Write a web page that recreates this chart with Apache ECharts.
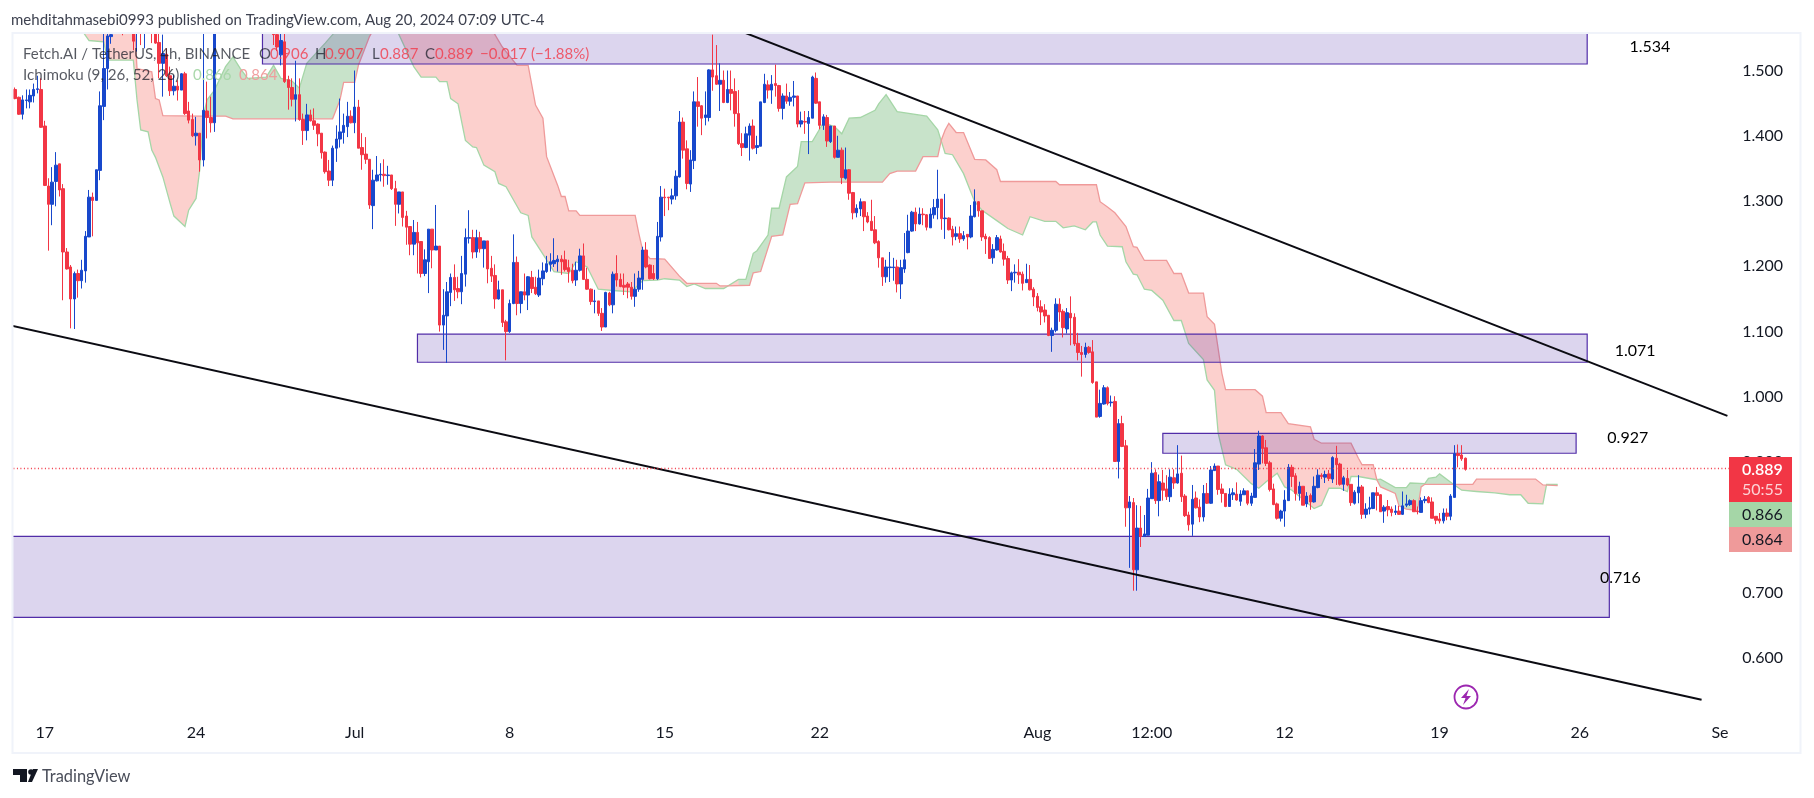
<!DOCTYPE html>
<html><head><meta charset="utf-8">
<style>html,body{margin:0;padding:0;background:#fff}#c{width:1814px;height:798px}</style>
<script src="https://cdn.jsdelivr.net/npm/echarts@6/dist/echarts.min.js"></script>
</head><body><div id="c"></div>
<script>
// FET/USDT 4h candles. null = bar lies wholly above the visible frame.
const opens=[1.471,1.459,1.433,1.454,1.452,1.461,1.471,1.471,1.415,1.323,
1.295,1.330,1.357,1.319,1.222,1.199,1.150,1.189,1.178,1.193,
1.245,1.306,1.301,1.347,1.445,1.503,1.552,null,null,1.600,
null,null,1.600,1.560,1.590,1.570,null,1.590,1.570,1.543,
1.511,1.525,1.492,1.469,1.476,1.470,1.495,1.438,1.425,1.400,
1.404,1.363,1.438,1.428,1.420,null,null,null,null,null,
null,null,null,null,null,null,null,null,null,null,
1.580,1.555,1.524,1.544,1.486,1.474,1.456,1.463,1.425,1.408,
1.432,1.423,1.418,1.404,1.375,1.346,1.332,1.381,1.395,1.405,
1.414,1.430,1.420,1.444,1.382,1.372,1.364,1.293,1.331,1.340,
1.341,1.339,1.340,1.319,1.295,1.314,1.277,1.261,1.234,1.252,
1.238,1.189,1.207,1.257,1.225,1.231,1.110,1.124,1.160,1.183,
1.166,1.161,1.188,1.243,1.244,1.222,1.244,1.227,1.239,1.197,
1.186,1.150,1.164,1.115,1.100,1.143,1.206,1.143,1.161,1.156,
1.183,1.168,1.156,1.181,1.192,1.203,1.204,1.207,1.211,1.210,
1.198,1.194,1.179,1.194,1.216,1.180,1.165,1.146,1.147,1.128,
1.107,1.159,1.141,1.189,1.180,1.171,1.173,1.168,1.154,1.165,
1.180,1.225,1.202,1.189,1.181,1.245,1.306,1.306,1.303,1.308,
1.337,1.421,1.380,1.326,1.362,1.452,1.446,1.428,1.428,1.501,
1.492,1.479,1.485,1.451,1.471,1.468,1.434,1.388,1.382,1.401,
1.415,1.382,1.384,1.451,1.478,1.470,1.480,1.477,1.442,1.461,
1.453,1.459,1.461,1.418,1.422,1.419,1.427,1.488,1.452,1.416,
1.428,1.391,1.415,1.367,1.378,1.335,1.348,1.313,1.282,1.288,
1.299,1.277,1.269,1.256,1.238,1.213,1.184,1.198,1.198,1.199,
1.173,1.196,1.221,1.254,1.283,1.265,1.280,1.279,1.259,1.279,
1.290,1.303,1.273,1.274,1.257,1.246,1.250,1.242,1.249,1.245,
1.276,1.299,1.285,1.246,1.244,1.213,1.225,1.242,1.223,1.212,
1.179,1.190,1.191,1.188,1.175,1.180,1.165,1.154,1.138,1.133,
1.125,1.094,1.102,1.142,1.131,1.104,1.128,1.122,1.082,1.068,
1.065,1.076,1.069,1.023,0.970,0.989,1.014,0.991,0.993,0.901,
0.959,0.925,0.830,0.838,0.735,0.799,0.786,0.788,0.844,0.884,
0.841,0.868,0.859,0.847,0.876,0.868,0.883,0.848,0.819,0.805,
0.845,0.831,0.816,0.852,0.837,0.887,0.894,0.859,0.852,0.832,
0.850,0.851,0.840,0.850,0.856,0.837,0.846,0.897,0.940,0.922,
0.899,0.859,0.836,0.814,0.825,0.841,0.892,0.879,0.852,0.863,
0.836,0.849,0.839,0.861,0.880,0.877,0.882,0.874,0.906,0.897,
0.866,0.875,0.866,0.837,0.853,0.862,0.820,0.828,0.829,0.853,
0.850,0.825,0.832,0.828,0.823,0.825,0.820,0.834,0.835,0.841,
0.825,0.823,0.841,0.846,0.839,0.817,0.813,0.810,0.822,0.817,
0.846,0.913,0.911,0.906];
const closes=[1.457,1.433,1.455,1.455,1.462,1.471,1.472,1.413,1.324,1.295,
1.329,1.355,1.317,1.222,1.196,1.150,1.189,1.178,1.194,1.246,
1.306,1.301,1.348,1.446,1.503,1.553,1.555,null,null,1.570,
null,null,1.545,1.590,1.560,1.585,null,1.570,1.542,1.511,
1.526,1.492,1.469,1.476,1.470,1.495,1.434,1.424,1.400,1.404,
1.363,1.439,1.428,1.420,1.570,null,null,null,null,null,
null,null,null,null,null,null,null,null,null,null,
1.555,1.536,1.546,1.483,1.474,1.456,1.463,1.425,1.408,1.432,
1.423,1.416,1.403,1.374,1.345,1.332,1.381,1.395,1.406,1.416,
1.430,1.420,1.444,1.381,1.371,1.364,1.294,1.332,1.340,1.341,
1.339,1.340,1.319,1.295,1.314,1.275,1.260,1.234,1.252,1.236,
1.189,1.210,1.257,1.225,1.231,1.110,1.125,1.161,1.183,1.164,
1.161,1.189,1.244,1.244,1.222,1.244,1.227,1.239,1.196,1.185,
1.150,1.164,1.114,1.100,1.143,1.206,1.143,1.161,1.156,1.184,
1.166,1.158,1.182,1.193,1.204,1.207,1.209,1.211,1.207,1.195,
1.192,1.178,1.194,1.216,1.180,1.165,1.146,1.147,1.128,1.107,
1.160,1.141,1.188,1.179,1.169,1.168,1.168,1.154,1.165,1.182,
1.225,1.199,1.181,1.181,1.246,1.306,1.305,1.305,1.308,1.338,
1.421,1.378,1.327,1.363,1.452,1.445,1.427,1.432,1.501,1.490,
1.479,1.485,1.451,1.471,1.465,1.434,1.388,1.382,1.403,1.415,
1.381,1.385,1.452,1.479,1.470,1.479,1.477,1.442,1.461,1.453,
1.459,1.461,1.418,1.423,1.421,1.428,1.490,1.450,1.416,1.429,
1.392,1.415,1.367,1.378,1.336,1.348,1.312,1.282,1.289,1.299,
1.276,1.268,1.255,1.236,1.213,1.184,1.199,1.199,1.199,1.173,
1.198,1.210,1.254,1.283,1.265,1.280,1.279,1.260,1.280,1.290,
1.303,1.273,1.274,1.256,1.245,1.250,1.242,1.247,1.245,1.277,
1.299,1.285,1.245,1.242,1.212,1.226,1.244,1.222,1.211,1.179,
1.190,1.191,1.187,1.174,1.180,1.164,1.153,1.137,1.130,1.124,
1.094,1.102,1.142,1.130,1.106,1.129,1.121,1.081,1.068,1.065,
1.076,1.068,1.022,0.969,0.990,1.014,0.990,0.992,0.901,0.959,
0.924,0.830,0.839,0.735,0.799,0.786,0.790,0.845,0.883,0.841,
0.870,0.857,0.847,0.877,0.868,0.882,0.847,0.818,0.804,0.843,
0.830,0.816,0.852,0.837,0.888,0.894,0.858,0.852,0.832,0.851,
0.853,0.842,0.851,0.856,0.837,0.848,0.899,0.940,0.921,0.898,
0.858,0.835,0.814,0.825,0.842,0.892,0.878,0.852,0.863,0.834,
0.848,0.839,0.863,0.880,0.878,0.881,0.875,0.907,0.896,0.866,
0.876,0.865,0.838,0.854,0.862,0.820,0.828,0.830,0.853,0.849,
0.824,0.831,0.827,0.823,0.825,0.820,0.833,0.836,0.841,0.824,
0.824,0.841,0.843,0.838,0.814,0.811,0.810,0.822,0.817,0.848,
0.913,0.910,0.905,0.889];
const highs=[1.474,1.460,1.462,1.471,1.471,1.480,1.492,1.488,1.423,1.335,
1.352,1.375,1.357,1.326,1.228,1.202,1.192,1.195,1.210,1.254,
1.317,1.313,1.348,1.468,1.557,1.577,1.562,null,null,1.610,
null,null,1.610,1.600,1.600,1.595,null,1.600,1.575,1.562,
1.555,1.534,1.506,1.493,1.485,1.496,1.498,1.452,1.434,1.429,
1.404,1.557,1.483,1.460,1.600,null,null,null,null,null,
null,null,null,null,null,null,null,null,null,null,
1.590,1.570,1.566,1.575,1.492,1.488,1.515,1.488,1.434,1.449,
1.440,1.442,1.419,1.404,1.376,1.363,1.385,1.416,1.457,1.434,
1.452,1.439,1.500,1.455,1.404,1.398,1.364,1.348,1.369,1.358,
1.364,1.354,1.340,1.331,1.314,1.314,1.285,1.261,1.271,1.268,
1.238,1.226,1.257,1.257,1.294,1.231,1.165,1.176,1.189,1.203,
1.184,1.216,1.258,1.286,1.256,1.256,1.253,1.239,1.239,1.216,
1.203,1.178,1.164,1.118,1.149,1.249,1.215,1.161,1.189,1.185,
1.193,1.184,1.195,1.206,1.216,1.220,1.243,1.217,1.217,1.224,
1.210,1.204,1.207,1.227,1.235,1.198,1.166,1.164,1.147,1.136,
1.161,1.161,1.192,1.217,1.189,1.189,1.176,1.176,1.189,1.193,
1.230,1.237,1.203,1.202,1.268,1.323,1.319,1.306,1.319,1.347,
1.438,1.428,1.393,1.378,1.468,1.490,1.447,1.468,1.502,1.555,
1.539,1.511,1.500,1.500,1.500,1.488,1.470,1.404,1.414,1.419,
1.425,1.400,1.452,1.495,1.485,1.493,1.509,1.478,1.465,1.480,
1.467,1.484,1.461,1.437,1.438,1.438,1.492,1.497,1.452,1.433,
1.432,1.415,1.415,1.400,1.382,1.382,1.349,1.314,1.295,1.304,
1.299,1.283,1.302,1.277,1.240,1.213,1.210,1.222,1.213,1.210,
1.210,1.251,1.279,1.285,1.290,1.290,1.289,1.280,1.289,1.303,
1.348,1.303,1.311,1.275,1.262,1.261,1.261,1.254,1.249,1.294,
1.318,1.300,1.285,1.250,1.246,1.234,1.248,1.247,1.235,1.216,
1.192,1.203,1.211,1.192,1.204,1.202,1.168,1.159,1.148,1.142,
1.125,1.106,1.151,1.151,1.134,1.136,1.154,1.128,1.098,1.078,
1.083,1.078,1.087,1.023,1.011,1.018,1.016,1.002,1.001,0.966,
0.971,0.934,0.848,0.845,0.834,0.833,0.819,0.859,0.900,0.889,
0.881,0.888,0.880,0.889,0.889,0.926,0.910,0.851,0.824,0.865,
0.855,0.843,0.865,0.868,0.894,0.898,0.894,0.867,0.852,0.860,
0.860,0.869,0.857,0.860,0.856,0.853,0.920,0.948,0.941,0.934,
0.902,0.867,0.838,0.827,0.857,0.897,0.896,0.883,0.870,0.863,
0.854,0.852,0.878,0.889,0.883,0.887,0.888,0.909,0.925,0.899,
0.879,0.888,0.866,0.857,0.880,0.865,0.837,0.847,0.853,0.862,
0.851,0.834,0.842,0.832,0.834,0.833,0.855,0.850,0.843,0.843,
0.832,0.846,0.848,0.848,0.846,0.817,0.822,0.829,0.829,0.851,
0.926,0.927,0.926,0.907];
const lows=[1.456,1.432,1.425,1.442,1.442,1.451,1.465,1.412,1.323,1.224,
1.263,1.292,1.307,1.148,1.195,1.105,1.104,1.152,1.166,1.175,
1.245,1.246,1.301,1.332,1.424,1.471,1.541,null,null,1.554,
null,null,1.531,1.529,1.539,1.534,null,1.542,1.541,1.488,
1.460,1.490,1.461,1.462,1.454,1.470,1.432,1.419,1.398,1.385,
1.345,1.353,1.396,1.405,1.406,null,null,null,null,null,
null,null,null,null,null,null,null,null,null,null,
1.539,1.530,1.508,1.481,1.440,1.445,1.422,1.423,1.386,1.393,
1.422,1.409,1.384,1.365,1.342,1.323,1.323,1.360,1.382,1.388,
1.398,1.419,1.404,1.381,1.348,1.357,1.288,1.257,1.330,1.330,
1.322,1.325,1.317,1.262,1.281,1.261,1.233,1.217,1.217,1.189,
1.183,1.185,1.159,1.197,1.225,1.100,1.072,1.052,1.139,1.147,
1.151,1.142,1.169,1.235,1.212,1.213,1.221,1.198,1.174,1.176,
1.135,1.149,1.107,1.056,1.098,1.142,1.125,1.128,1.148,1.133,
1.159,1.156,1.153,1.171,1.190,1.192,1.199,1.192,1.187,1.192,
1.175,1.174,1.170,1.192,1.179,1.164,1.141,1.128,1.124,1.101,
1.107,1.139,1.128,1.169,1.168,1.156,1.151,1.149,1.138,1.161,
1.164,1.197,1.180,1.179,1.179,1.238,1.277,1.286,1.295,1.302,
1.336,1.365,1.318,1.314,1.349,1.414,1.401,1.416,1.422,1.469,
1.478,1.438,1.450,1.450,1.439,1.414,1.386,1.369,1.381,1.362,
1.379,1.372,1.384,1.450,1.457,1.449,1.460,1.437,1.425,1.449,
1.446,1.445,1.413,1.413,1.403,1.372,1.427,1.449,1.410,1.409,
1.383,1.389,1.365,1.367,1.326,1.333,1.302,1.272,1.275,1.277,
1.254,1.266,1.254,1.234,1.198,1.170,1.175,1.176,1.178,1.160,
1.150,1.190,1.220,1.253,1.254,1.264,1.263,1.255,1.259,1.273,
1.272,1.256,1.242,1.255,1.232,1.240,1.236,1.239,1.226,1.243,
1.275,1.276,1.239,1.219,1.212,1.204,1.224,1.221,1.201,1.173,
1.162,1.175,1.173,1.163,1.175,1.163,1.139,1.131,1.110,1.114,
1.093,1.069,1.099,1.115,1.091,1.097,1.079,1.078,1.056,1.031,
1.060,1.066,1.020,0.969,0.968,0.988,0.987,0.985,0.901,0.875,
0.923,0.801,0.738,0.703,0.703,0.770,0.786,0.788,0.844,0.836,
0.817,0.841,0.842,0.839,0.859,0.867,0.839,0.816,0.795,0.787,
0.829,0.808,0.809,0.836,0.836,0.887,0.850,0.838,0.831,0.832,
0.842,0.841,0.833,0.850,0.834,0.833,0.846,0.888,0.898,0.894,
0.855,0.834,0.812,0.809,0.801,0.841,0.862,0.841,0.841,0.834,
0.831,0.827,0.838,0.860,0.874,0.868,0.871,0.868,0.865,0.864,
0.856,0.863,0.833,0.835,0.837,0.813,0.814,0.820,0.828,0.826,
0.824,0.807,0.817,0.817,0.819,0.819,0.819,0.831,0.833,0.824,
0.820,0.823,0.837,0.837,0.814,0.805,0.806,0.806,0.811,0.811,
0.846,0.892,0.902,0.887];

// Ichimoku leading spans, read at the bends of each line: bar numbers and prices
const spanABars=[17,20,24,25,32,33,34,36,37,38,40,42,43,46,47,49,50,51,52,54,57,59,61,63,68,70,72,75,77,79,84,86,90,100,104,108,110,112,114,115,117,118,120,122,124,125,127,130,131,133,135,137,139,140,144,146,150,152,155,158,162,167,170,174,176,180,182,184,187,192,196,198,200,201,204,205,207,209,212,213,216,219,222,224,226,229,233,234,236,239,247,250,252,254,257,260,262,266,269,273,275,279,282,284,287,290,292,293,294,296,300,301,303,304,306,308,311,314,316,318,322,323,325,326,328,331,335,337,339,342,344,346,352,354,356,359,361,362,364,369,370,374,377,378,382,383,385,386,390,392,396,401,405,408,410,414,415,418];
const spanA=[1.570,1.546,1.544,1.516,1.516,1.455,1.409,1.406,1.378,1.367,1.337,1.296,1.277,1.261,1.286,1.304,1.348,1.432,1.455,1.470,1.506,1.521,1.503,1.488,1.490,1.508,1.488,1.484,1.473,1.511,1.542,1.555,1.580,1.590,1.555,1.506,1.490,1.490,1.490,1.483,1.483,1.457,1.449,1.393,1.383,1.382,1.355,1.345,1.327,1.322,1.302,1.282,1.278,1.245,1.210,1.192,1.189,1.207,1.199,1.165,1.163,1.161,1.178,1.179,1.181,1.179,1.169,1.173,1.166,1.166,1.180,1.180,1.220,1.224,1.248,1.289,1.289,1.337,1.353,1.391,1.391,1.420,1.414,1.403,1.427,1.428,1.439,1.449,1.463,1.437,1.430,1.409,1.373,1.371,1.342,1.299,1.286,1.270,1.258,1.248,1.276,1.269,1.269,1.259,1.262,1.256,1.268,1.268,1.248,1.231,1.230,1.207,1.188,1.187,1.165,1.163,1.148,1.117,1.117,1.082,1.057,1.026,1.010,0.944,0.896,0.889,0.867,0.860,0.870,0.883,0.862,0.857,0.829,0.834,0.860,0.860,0.855,0.878,0.878,0.873,0.874,0.861,0.861,0.868,0.867,0.875,0.877,0.882,0.865,0.857,0.855,0.853,0.850,0.850,0.837,0.836,0.866,0.866];
const spanBBars=[17,32,33,37,38,39,40,50,54,57,59,86,88,89,92,93,96,97,98,125,130,132,136,139,141,143,144,147,148,149,150,152,153,168,169,170,172,176,180,182,190,191,193,199,200,202,205,208,210,212,214,221,235,237,239,244,246,250,251,252,253,255,257,260,263,266,267,282,283,293,294,296,298,301,303,304,306,312,314,316,318,322,323,325,327,328,336,338,339,343,345,351,352,354,362,364,365,368,369,370,374,375,377,380,381,382,395,396,412,414,418];
const spanB=[1.600,1.600,1.503,1.498,1.457,1.455,1.431,1.430,1.430,1.430,1.426,1.426,1.455,1.482,1.482,1.508,1.552,1.562,1.580,1.600,1.555,1.536,1.508,1.508,1.447,1.427,1.368,1.324,1.307,1.307,1.285,1.285,1.278,1.278,1.250,1.225,1.212,1.211,1.185,1.174,1.174,1.170,1.170,1.171,1.190,1.192,1.246,1.248,1.295,1.296,1.328,1.329,1.329,1.342,1.346,1.346,1.368,1.368,1.394,1.409,1.419,1.405,1.405,1.364,1.363,1.348,1.330,1.330,1.325,1.325,1.299,1.291,1.282,1.261,1.230,1.229,1.209,1.209,1.189,1.189,1.159,1.159,1.123,1.111,1.036,1.011,1.011,1.001,0.976,0.976,0.959,0.954,0.935,0.929,0.929,0.906,0.896,0.896,0.873,0.862,0.852,0.833,0.828,0.826,0.862,0.866,0.866,0.874,0.874,0.865,0.864];

// Drawn zones: bar range and price range
const zoneStartBars=[67,109,311,-1];
const zoneEndBars=[426,426,423,432];
const zoneTops=[1.620,1.096,0.944,0.7863];
const zoneBottoms=[1.510,1.053,0.9136,0.6622];
// Zone captions
const levelTexts=['1.534','1.071','0.927','0.716'];
const levelBars=[443,439,437,435];
const levelPrices=[1.537,1.070,0.937,0.7225];
// Two trend lines: bar and price of both ends
const trendBars=[[195,464],[-1,457]];
const trendPrices=[[1.5639,0.9709],[1.1091,0.536]];
// Time axis
const tickLabels=['17','24','Jul','8','15','22','Aug','12:00','12','19','26','Se'];
const tickBars=[8,49,92,134,176,218,277,308,344,386,424,462];
const TOTAL_BARS=465;
const lastClose=0.889;

const FONT='Lato,"Open Sans",sans-serif';
const INK='#131722', RED='#f23645', BLUE='#1848cc', GREEN_L='#a5d6a7', RED_L='#ef9a9a';

const cats=new Array(TOTAL_BARS).fill('');
tickBars.forEach((b,i)=>cats[b]=tickLabels[i]);
const candles=opens.map((o,i)=>o==null?['-','-','-','-']:[o,closes[i],lows[i],highs[i]]);

function lineAt(bars,vals,x){
  if(x<=bars[0])return vals[0];
  for(let k=1;k<bars.length;k++){
    if(x<=bars[k]){const t=(x-bars[k-1])/(bars[k]-bars[k-1]);return vals[k-1]+t*(vals[k]-vals[k-1]);}
  }
  return vals[vals.length-1];
}
const cloudBars=[...new Set([...spanABars,...spanBBars])].sort((a,b)=>a-b);
function renderCloud(params,api){
  const kids=[];
  let run=[],sign=0;
  const flush=()=>{
    if(run.length<2)return;
    const pts=run.map(b=>api.coord([b,lineAt(spanABars,spanA,b)])).concat(run.slice().reverse().map(b=>api.coord([b,lineAt(spanBBars,spanB,b)])));
    kids.push({type:'polygon',shape:{points:pts},style:{fill:sign>0?'rgba(67,160,71,0.29)':'rgba(244,67,54,0.25)',stroke:'none'}});
  };
  cloudBars.forEach(b=>{
    const d=lineAt(spanABars,spanA,b)-lineAt(spanBBars,spanB,b);
    const s=d>=0?1:-1;
    if(sign===0)sign=s;
    run.push(b);
    if(s!==sign){flush();run=[b];sign=s;}
  });
  flush();
  kids.push({type:'polyline',shape:{points:spanABars.map((b,i)=>api.coord([b,spanA[i]]))},style:{fill:'none',stroke:GREEN_L,lineWidth:1.3}});
  kids.push({type:'polyline',shape:{points:spanBBars.map((b,i)=>api.coord([b,spanB[i]]))},style:{fill:'none',stroke:RED_L,lineWidth:1.3}});
  return {type:'group',children:kids};
}
function renderZones(params,api){
  return {type:'group',children:zoneStartBars.map((s,i)=>{
    const a=api.coord([s,zoneTops[i]]),b=api.coord([zoneEndBars[i],zoneBottoms[i]]);
    return {type:'rect',shape:{x:a[0],y:a[1],width:b[0]-a[0],height:b[1]-a[1]},style:{fill:'rgba(81,45,168,0.2)',stroke:'#512da8',lineWidth:1.2}};
  })};
}
function renderTrends(params,api){
  return {type:'group',children:trendBars.map((t,i)=>({type:'polyline',shape:{points:t.map((b,k)=>api.coord([b,trendPrices[i][k]]))},style:{fill:'none',stroke:'#0b0b12',lineWidth:2}}))};
}
function renderLevels(params,api){
  return {type:'group',children:levelTexts.map((t,i)=>{
    const p=api.coord([levelBars[i],levelPrices[i]]);
    return {type:'text',style:{text:t,x:p[0],y:p[1],fill:'#000',font:'16px '+FONT,align:'center',verticalAlign:'middle'}};
  })};
}
const T=(text,x,y,fill,size,extra)=>Object.assign({type:'text',z:100,style:{text,x,y,fill,font:(size||13)+'px '+FONT,verticalAlign:'middle'}},extra||{});
const R=(x,y,w,h,fill)=>({type:'rect',z:99,shape:{x,y,width:w,height:h},style:{fill}});
const LEG='rgba(19,23,34,0.72)', LEGR='rgba(242,54,69,0.78)';
const graphics=[
 {type:'rect',z:97,shape:{x:0,y:0,width:1814,height:33},style:{fill:'#fff'}},
 {type:'rect',z:98,shape:{x:12.5,y:33,width:1788,height:720},style:{fill:'none',stroke:'#f0f3fa',lineWidth:2}},
 T('mehditahmasebi0993 published on TradingView.com, Aug 20, 2024 07:09 UTC-4',11,20,'#3e4250',15),
 T('Fetch.AI / TetherUS, 4h, BINANCE',23,54,LEG,15),
 T('O',259,54,LEG,15),T('0.906',270,54,LEGR,15),
 T('H',315,54,LEG,15),T('0.907',325,54,LEGR,15),
 T('L',372,54,LEG,15),T('0.887',380,54,LEGR,15),
 T('C',425,54,LEG,15),T('0.889',435,54,LEGR,15),
 T('−0.017 (−1.88%)',480,54,LEGR,15),
 T('Ichimoku (9, 26, 52, 26)',23,75,LEG,15.2),
 T('0.866',193,75,'rgba(165,214,167,0.95)',15),T('0.864',239,75,'rgba(239,154,154,0.95)',15),
 R(1729,457,63,45,RED),R(1729,502,63,25,GREEN_L),R(1729,527,63,25,RED_L),
 T('0.889',1742,470,'#fff',16,{style:{text:'0.889',x:1742,y:470,fill:'#fff',font:'600 16px '+FONT,verticalAlign:'middle'}}),
 T('50:55',1742,490,'rgba(255,255,255,0.78)',16),
 T('0.866',1742,515,INK,16),T('0.864',1742,540,INK,16),
 {type:'circle',z:99,shape:{cx:1466,cy:697,r:11.5},style:{fill:'#fff',stroke:'#9c27b0',lineWidth:1.8}},
 {type:'polygon',z:100,shape:{points:[[1469,689],[1461,698],[1465.5,698],[1463,705],[1471,696],[1466.5,696]]},style:{fill:'#9c27b0'}},
 {type:'polygon',z:100,shape:{points:[[13,769],[27,769],[27,782],[20,782],[20,775],[13,775]]},style:{fill:'#131722'}},
 {type:'circle',z:100,shape:{cx:31,cy:772,r:2.8},style:{fill:'#131722'}},
 {type:'polygon',z:100,shape:{points:[[32,782],[28,782],[33,769],[38,769]]},style:{fill:'#131722'}},
 T('TradingView',42,777,'#4a4e5a',16.4),
];

const chart=echarts.init(document.getElementById('c'),null,{renderer:'canvas'});
chart.setOption({
 animation:false,backgroundColor:'#fff',
 grid:{left:13.4,top:33,width:1715.85,height:690.2,show:false},
 xAxis:{type:'category',data:cats,boundaryGap:true,axisLine:{show:false},axisTick:{show:false},splitLine:{show:false},
   axisLabel:{interval:0,hideOverlap:false,color:INK,fontSize:16,fontFamily:FONT,margin:2,showMinLabel:true,showMaxLabel:true}},
 yAxis:{type:'value',position:'right',min:0.5,max:1.5575,interval:0.1,scale:true,axisLine:{show:false},axisTick:{show:false},splitLine:{show:false},
   axisLabel:{color:INK,fontSize:16,fontFamily:FONT,margin:13,showMaxLabel:false,
     formatter:v=>(Math.abs(v-0.5)<1e-6||v>1.51)?'':v.toFixed(3)}},
 graphic:{elements:graphics},
 series:[
  {name:'Ichimoku cloud',type:'custom',coordinateSystem:'cartesian2d',clip:true,z:1,data:[[0,1]],renderItem:renderCloud,silent:true},
  {name:'Zones',type:'custom',coordinateSystem:'cartesian2d',clip:true,z:2,data:[[0,1]],renderItem:renderZones,silent:true},
  {name:'FET/USDT',type:'candlestick',z:3,barWidth:3,clip:true,data:candles,progressive:0,large:false,
   itemStyle:{color:BLUE,color0:RED,borderColor:BLUE,borderColor0:RED,borderWidth:1},
   markLine:{silent:true,symbol:'none',label:{show:false},lineStyle:{color:RED,type:[1,2.5],width:1.4,opacity:1},data:[{yAxis:lastClose}],animation:false}},
  {name:'Trend lines',type:'custom',coordinateSystem:'cartesian2d',clip:true,z:4,data:[[0,1]],renderItem:renderTrends,silent:true},
  {name:'Levels',type:'custom',coordinateSystem:'cartesian2d',clip:false,z:5,data:[[0,1]],renderItem:renderLevels,silent:true}
 ]
});
</script></body></html>
